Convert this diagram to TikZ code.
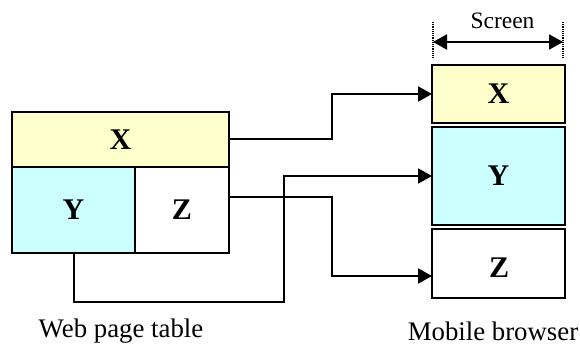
\documentclass[tikz,border=0pt]{standalone}
\usepackage{fontspec}
\setmainfont{Liberation Serif}
\usetikzlibrary{arrows.meta}
\definecolor{cellyellow}{HTML}{FFFFCC}
\definecolor{cellcyan}{HTML}{CCFFFF}
\tikzset{
  cell/.style={draw=black, line width=2.8pt, inner sep=0pt, outer sep=0pt,
               font=\fontsize{30}{34}\selectfont\bfseries},
  conn/.style={draw=black, line width=2pt, -{Triangle[length=14pt,width=15pt]}},
  caption/.style={font=\fontsize{26.8}{31}\selectfont, inner sep=0pt},
}
\begin{document}
\begin{tikzpicture}[x=1pt, y=-1pt]
\useasboundingbox (0,0) rectangle (580,347);

% web page table
\node[cell, fill=cellyellow, minimum width=217pt, minimum height=55pt] (lx) at (120.5,139.5) {X};
\node[cell, fill=cellcyan, minimum width=123pt, minimum height=86pt] (ly) at (73.5,210) {Y};
\node[cell, fill=white, minimum width=94pt, minimum height=86pt] (lz) at (182,210) {Z};

% mobile browser layout
\node[cell, fill=cellyellow, minimum width=133pt, minimum height=58pt] (rx) at (498.5,94) {X};
\node[cell, fill=cellcyan, minimum width=133pt, minimum height=98pt] (ry) at (498.5,176) {Y};
\node[cell, fill=white, minimum width=133pt, minimum height=69pt] (rz) at (498.5,263.5) {};
\node[font=\fontsize{30}{34}\selectfont\bfseries, inner sep=0pt] (rzt) at (499,268) {Z};

% connectors
\draw[conn] (lx.east) -- (332,139.5) |- (rx.west);
\draw[conn] (lz.east |- 0,197) -- (332,197) |- (rz.west |- 0,276);
\draw[conn] (ly.south) -- (73.5,302) -- (284,302) |- (ry.west);

% screen width
\coordinate (sl) at (433,42);
\coordinate (sr) at (563,42);
\draw[densely dotted, line width=1.2pt] (433,22) -- (433,58);
\draw[densely dotted, line width=1.2pt] (563,22) -- (563,58);
\draw[line width=2pt, {Triangle[length=14pt,width=15pt]}-{Triangle[length=14pt,width=15pt]}] (sl) -- (sr);
\node[font=\fontsize{23.5}{27}\selectfont, inner sep=0pt] (scr) at (502.5,21) {Screen};

% captions
\node[caption] (cweb) at (121,331) {Web page table};
\node[caption] (cmob) at (493,331) {Mobile browser};
\end{tikzpicture}
\end{document}
